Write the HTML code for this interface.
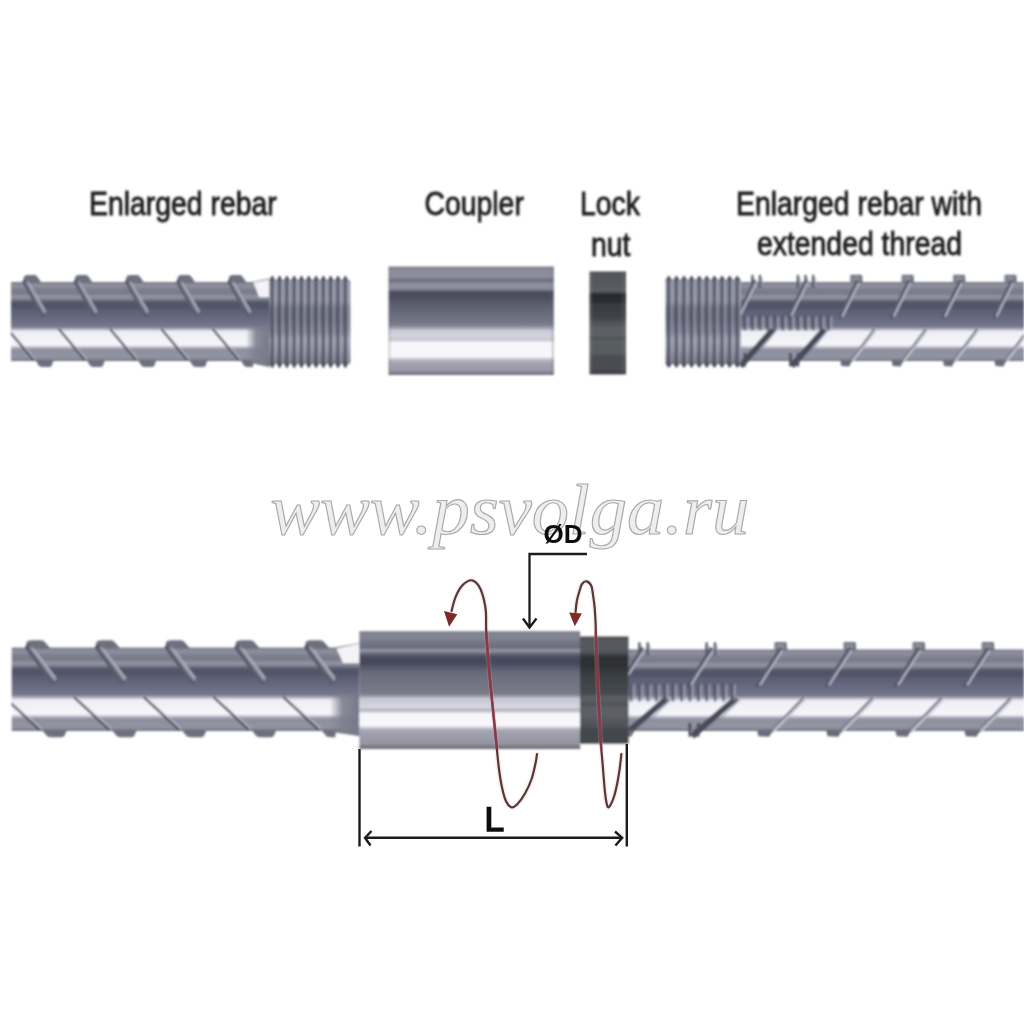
<!DOCTYPE html>
<html><head><meta charset="utf-8"><style>html,body{margin:0;padding:0;background:#fff;width:1024px;height:1024px;overflow:hidden}svg{display:block}</style></head>
<body><svg width="1024" height="1024" viewBox="0 0 1024 1024"><defs><filter id="soft" x="-5%" y="-5%" width="110%" height="110%"><feGaussianBlur stdDeviation="0.85"/></filter><filter id="softT" x="-5%" y="-20%" width="110%" height="140%"><feGaussianBlur stdDeviation="0.9"/></filter><filter id="softL" x="-5%" y="-5%" width="110%" height="110%"><feGaussianBlur stdDeviation="0.55"/></filter><filter id="soft2" x="-5%" y="-5%" width="110%" height="110%"><feGaussianBlur stdDeviation="0.8"/></filter><linearGradient id="gTL" gradientUnits="userSpaceOnUse" x1="0" y1="282.0" x2="0" y2="361.0"><stop offset="0.0000" stop-color="#6e7080"/><stop offset="0.0190" stop-color="#848694"/><stop offset="0.0443" stop-color="#8e909e"/><stop offset="0.0759" stop-color="#868896"/><stop offset="0.0949" stop-color="#7c7e8c"/><stop offset="0.1519" stop-color="#7a7c8a"/><stop offset="0.1772" stop-color="#9294a2"/><stop offset="0.2089" stop-color="#8a8c9a"/><stop offset="0.2316" stop-color="#6c6e80"/><stop offset="0.2570" stop-color="#545669"/><stop offset="0.3038" stop-color="#505266"/><stop offset="0.3544" stop-color="#5c5e74"/><stop offset="0.4557" stop-color="#686a80"/><stop offset="0.5633" stop-color="#747689"/><stop offset="0.5949" stop-color="#a8a8b8"/><stop offset="0.6266" stop-color="#eeeef4"/><stop offset="0.7975" stop-color="#f6f6fa"/><stop offset="0.8291" stop-color="#b8b8c4"/><stop offset="0.8544" stop-color="#8e909e"/><stop offset="0.9557" stop-color="#9294a2"/><stop offset="0.9873" stop-color="#7a7c8a"/><stop offset="1.0000" stop-color="#6a6c7c"/></linearGradient><clipPath id="cTL"><rect x="11" y="260" width="242" height="120"/></clipPath><linearGradient id="gCone" gradientUnits="userSpaceOnUse" x1="246" y1="0" x2="269.5" y2="0"><stop offset="0.0000" stop-color="#7e808e" stop-opacity="0"/><stop offset="0.4255" stop-color="#7e808e" stop-opacity="0.9"/><stop offset="1.0000" stop-color="#767888" stop-opacity="1"/></linearGradient><linearGradient id="gThr" gradientUnits="userSpaceOnUse" x1="0" y1="280.5" x2="0" y2="363.2"><stop offset="0.0000" stop-color="#8a8c9a"/><stop offset="0.2500" stop-color="#8e90a0"/><stop offset="0.3300" stop-color="#6e7080"/><stop offset="0.4500" stop-color="#6a6c7e"/><stop offset="0.6200" stop-color="#7c7e90"/><stop offset="0.7200" stop-color="#9c9eae"/><stop offset="0.8500" stop-color="#8a8c9c"/><stop offset="1.0000" stop-color="#6a6c7a"/></linearGradient><linearGradient id="gCT" gradientUnits="userSpaceOnUse" x1="0" y1="266.6" x2="0" y2="375"><stop offset="0.0000" stop-color="#6e7078"/><stop offset="0.0148" stop-color="#868896"/><stop offset="0.0498" stop-color="#8c8e9c"/><stop offset="0.1052" stop-color="#8a8c9a"/><stop offset="0.1190" stop-color="#6a6c7a"/><stop offset="0.1375" stop-color="#6e7080"/><stop offset="0.1513" stop-color="#8e909e"/><stop offset="0.2066" stop-color="#8c8e9c"/><stop offset="0.2232" stop-color="#5c5e70"/><stop offset="0.2435" stop-color="#4a4c5e"/><stop offset="0.2943" stop-color="#4e5062"/><stop offset="0.3358" stop-color="#5a5c6c"/><stop offset="0.4465" stop-color="#6a6c7c"/><stop offset="0.5387" stop-color="#7a7c8c"/><stop offset="0.5618" stop-color="#9a9aaa"/><stop offset="0.5895" stop-color="#cacad6"/><stop offset="0.6402" stop-color="#d4d4de"/><stop offset="0.6771" stop-color="#c6c6d2"/><stop offset="0.7002" stop-color="#f6f6fa"/><stop offset="0.8293" stop-color="#f8f8fc"/><stop offset="0.8570" stop-color="#c0c0cc"/><stop offset="0.8847" stop-color="#a4a4b2"/><stop offset="0.9539" stop-color="#9a9aaa"/><stop offset="0.9797" stop-color="#82828c"/><stop offset="1.0000" stop-color="#66666e"/></linearGradient><linearGradient id="gNT" gradientUnits="userSpaceOnUse" x1="0" y1="271.5" x2="0" y2="374.4"><stop offset="0.0000" stop-color="#44484c"/><stop offset="0.0185" stop-color="#52565a"/><stop offset="0.1506" stop-color="#565a5e"/><stop offset="0.1701" stop-color="#5c6064"/><stop offset="0.1944" stop-color="#585c60"/><stop offset="0.2206" stop-color="#26292e"/><stop offset="0.2964" stop-color="#2a2d32"/><stop offset="0.3158" stop-color="#363a3e"/><stop offset="0.4519" stop-color="#404448"/><stop offset="0.4908" stop-color="#4e5256"/><stop offset="0.5491" stop-color="#5c6064"/><stop offset="0.6268" stop-color="#5e6266"/><stop offset="0.6463" stop-color="#4a4e52"/><stop offset="0.6706" stop-color="#5a5e62"/><stop offset="0.8017" stop-color="#585c60"/><stop offset="0.8260" stop-color="#4a4e52"/><stop offset="0.9572" stop-color="#484c50"/><stop offset="0.9815" stop-color="#3a3e42"/><stop offset="1.0000" stop-color="#34383c"/></linearGradient><linearGradient id="gTR" gradientUnits="userSpaceOnUse" x1="0" y1="282.0" x2="0" y2="361.0"><stop offset="0.0000" stop-color="#6e7080"/><stop offset="0.0190" stop-color="#848694"/><stop offset="0.0443" stop-color="#8e909e"/><stop offset="0.0759" stop-color="#868896"/><stop offset="0.0949" stop-color="#7c7e8c"/><stop offset="0.1519" stop-color="#7a7c8a"/><stop offset="0.1772" stop-color="#9294a2"/><stop offset="0.2089" stop-color="#8a8c9a"/><stop offset="0.2316" stop-color="#6c6e80"/><stop offset="0.2570" stop-color="#545669"/><stop offset="0.3038" stop-color="#505266"/><stop offset="0.3544" stop-color="#5c5e74"/><stop offset="0.4557" stop-color="#686a80"/><stop offset="0.5633" stop-color="#747689"/><stop offset="0.5949" stop-color="#a8a8b8"/><stop offset="0.6266" stop-color="#eeeef4"/><stop offset="0.7975" stop-color="#f6f6fa"/><stop offset="0.8291" stop-color="#b8b8c4"/><stop offset="0.8544" stop-color="#8e909e"/><stop offset="0.9557" stop-color="#9294a2"/><stop offset="0.9873" stop-color="#7a7c8a"/><stop offset="1.0000" stop-color="#6a6c7c"/></linearGradient><clipPath id="cTR"><rect x="740" y="260" width="284" height="120"/></clipPath><linearGradient id="gBL" gradientUnits="userSpaceOnUse" x1="0" y1="647.6" x2="0" y2="731.0"><stop offset="0.0000" stop-color="#6e7080"/><stop offset="0.0190" stop-color="#848694"/><stop offset="0.0443" stop-color="#8e909e"/><stop offset="0.0759" stop-color="#868896"/><stop offset="0.0949" stop-color="#7c7e8c"/><stop offset="0.1519" stop-color="#7a7c8a"/><stop offset="0.1772" stop-color="#9294a2"/><stop offset="0.2089" stop-color="#8a8c9a"/><stop offset="0.2316" stop-color="#6c6e80"/><stop offset="0.2570" stop-color="#545669"/><stop offset="0.3038" stop-color="#505266"/><stop offset="0.3544" stop-color="#5c5e74"/><stop offset="0.4557" stop-color="#686a80"/><stop offset="0.5633" stop-color="#747689"/><stop offset="0.5949" stop-color="#a8a8b8"/><stop offset="0.6266" stop-color="#eeeef4"/><stop offset="0.7975" stop-color="#f6f6fa"/><stop offset="0.8291" stop-color="#b8b8c4"/><stop offset="0.8544" stop-color="#8e909e"/><stop offset="0.9557" stop-color="#9294a2"/><stop offset="0.9873" stop-color="#7a7c8a"/><stop offset="1.0000" stop-color="#6a6c7c"/></linearGradient><clipPath id="cBL"><rect x="11.5" y="620" width="324" height="130"/></clipPath><linearGradient id="gCone2" gradientUnits="userSpaceOnUse" x1="330" y1="0" x2="359.5" y2="0"><stop offset="0.0000" stop-color="#7e808e" stop-opacity="0"/><stop offset="0.4068" stop-color="#7e808e" stop-opacity="0.9"/><stop offset="1.0000" stop-color="#767888" stop-opacity="1"/></linearGradient><linearGradient id="gBR" gradientUnits="userSpaceOnUse" x1="0" y1="649.5" x2="0" y2="731.0"><stop offset="0.0000" stop-color="#6e7080"/><stop offset="0.0190" stop-color="#848694"/><stop offset="0.0443" stop-color="#8e909e"/><stop offset="0.0759" stop-color="#868896"/><stop offset="0.0949" stop-color="#7c7e8c"/><stop offset="0.1519" stop-color="#7a7c8a"/><stop offset="0.1772" stop-color="#9294a2"/><stop offset="0.2089" stop-color="#8a8c9a"/><stop offset="0.2316" stop-color="#6c6e80"/><stop offset="0.2570" stop-color="#545669"/><stop offset="0.3038" stop-color="#505266"/><stop offset="0.3544" stop-color="#5c5e74"/><stop offset="0.4557" stop-color="#686a80"/><stop offset="0.5633" stop-color="#747689"/><stop offset="0.5949" stop-color="#a8a8b8"/><stop offset="0.6266" stop-color="#eeeef4"/><stop offset="0.7975" stop-color="#f6f6fa"/><stop offset="0.8291" stop-color="#b8b8c4"/><stop offset="0.8544" stop-color="#8e909e"/><stop offset="0.9557" stop-color="#9294a2"/><stop offset="0.9873" stop-color="#7a7c8a"/><stop offset="1.0000" stop-color="#6a6c7c"/></linearGradient><clipPath id="cBR"><rect x="628" y="620" width="396" height="130"/></clipPath><linearGradient id="gCB" gradientUnits="userSpaceOnUse" x1="0" y1="631.3" x2="0" y2="749"><stop offset="0.0000" stop-color="#6e7078"/><stop offset="0.0170" stop-color="#808290"/><stop offset="0.0272" stop-color="#848694"/><stop offset="0.0739" stop-color="#7e808e"/><stop offset="0.0867" stop-color="#767888"/><stop offset="0.1037" stop-color="#747686"/><stop offset="0.1164" stop-color="#6c6e7c"/><stop offset="0.1444" stop-color="#6c6e7c"/><stop offset="0.1546" stop-color="#8e909e"/><stop offset="0.1742" stop-color="#8e909e"/><stop offset="0.1844" stop-color="#6c6e7c"/><stop offset="0.2031" stop-color="#585a6a"/><stop offset="0.2226" stop-color="#484c5a"/><stop offset="0.2608" stop-color="#44485a"/><stop offset="0.2829" stop-color="#4c5062"/><stop offset="0.3118" stop-color="#56596a"/><stop offset="0.3458" stop-color="#686a7a"/><stop offset="0.4223" stop-color="#70727f"/><stop offset="0.5217" stop-color="#7a7a88"/><stop offset="0.5455" stop-color="#8a8a98"/><stop offset="0.5667" stop-color="#c4c4d0"/><stop offset="0.6432" stop-color="#d8d8e2"/><stop offset="0.6644" stop-color="#babac6"/><stop offset="0.6814" stop-color="#c0c0cc"/><stop offset="0.6984" stop-color="#f6f6fa"/><stop offset="0.8003" stop-color="#f8f8fc"/><stop offset="0.8216" stop-color="#c4c4d0"/><stop offset="0.8471" stop-color="#a2a2b0"/><stop offset="0.9575" stop-color="#9494a2"/><stop offset="0.9788" stop-color="#7a7a86"/><stop offset="1.0000" stop-color="#66666e"/></linearGradient><linearGradient id="gNB" gradientUnits="userSpaceOnUse" x1="0" y1="636.6" x2="0" y2="743.5"><stop offset="0.0000" stop-color="#3a3e42"/><stop offset="0.0178" stop-color="#4e5256"/><stop offset="0.0412" stop-color="#565a5e"/><stop offset="0.1347" stop-color="#54585c"/><stop offset="0.1572" stop-color="#4a4e52"/><stop offset="0.1908" stop-color="#2e3236"/><stop offset="0.2657" stop-color="#2c3034"/><stop offset="0.3779" stop-color="#3c4044"/><stop offset="0.5370" stop-color="#464a4e"/><stop offset="0.5603" stop-color="#5a5e62"/><stop offset="0.6118" stop-color="#585c60"/><stop offset="0.6305" stop-color="#4e5256"/><stop offset="0.6632" stop-color="#5c6064"/><stop offset="0.7615" stop-color="#5a5e62"/><stop offset="0.7802" stop-color="#54585c"/><stop offset="0.8457" stop-color="#4e5256"/><stop offset="0.8644" stop-color="#44484c"/><stop offset="0.9813" stop-color="#42464a"/><stop offset="1.0000" stop-color="#2e3236"/></linearGradient><clipPath id="cCpl"><rect x="359.4" y="631.3" width="269.1" height="117.7"/></clipPath></defs><rect width="1024" height="1024" fill="#fff"/><g filter="url(#soft)"><g clip-path="url(#cTL)"><rect x="11.00" y="282.00" width="245.00" height="79.00" fill="url(#gTL)" /><path d="M23.0,282.8 L24.0,276.5 Q25.0,275.0 27.5,275.0 L34.5,275.0 Q36.5,275.0 37.5,277.0 L41.5,282.8Z" fill="#6e707e" stroke="none" stroke-width="1" /><path d="M25.0,282.0 L43.0,314.0" fill="none" stroke="#5a5c6c" stroke-width="5.2" stroke-linecap="round"/><path d="M27.5,282.5 L44.5,312.0" fill="none" stroke="#9294a4" stroke-width="3.0" stroke-linecap="round"/><path d="M29.0,283.5 L45.5,311.0" fill="none" stroke="#bcbecc" stroke-width="1.0" /><path d="M7.5,329.0 L33.5,360.0" fill="none" stroke="#4c4e5e" stroke-width="2.2" /><path d="M9.5,329.0 L35.0,359.0" fill="none" stroke="#d8d8e2" stroke-width="1.1" opacity="0.7"/><path d="M35.5,360.2 L39.0,366.0 Q40.5,367.0 42.5,367.0 L49.5,367.0 Q51.5,367.0 52.0,365.0 L53.5,360.2Z" fill="#6e707e" stroke="none" stroke-width="1" /><path d="M74.3,282.8 L75.3,276.5 Q76.3,275.0 78.8,275.0 L85.8,275.0 Q87.8,275.0 88.8,277.0 L92.8,282.8Z" fill="#6e707e" stroke="none" stroke-width="1" /><path d="M76.3,282.0 L94.3,314.0" fill="none" stroke="#5a5c6c" stroke-width="5.2" stroke-linecap="round"/><path d="M78.8,282.5 L95.8,312.0" fill="none" stroke="#9294a4" stroke-width="3.0" stroke-linecap="round"/><path d="M80.3,283.5 L96.8,311.0" fill="none" stroke="#bcbecc" stroke-width="1.0" /><path d="M58.8,329.0 L84.8,360.0" fill="none" stroke="#4c4e5e" stroke-width="2.2" /><path d="M60.8,329.0 L86.3,359.0" fill="none" stroke="#d8d8e2" stroke-width="1.1" opacity="0.7"/><path d="M86.8,360.2 L90.3,366.0 Q91.8,367.0 93.8,367.0 L100.8,367.0 Q102.8,367.0 103.3,365.0 L104.8,360.2Z" fill="#6e707e" stroke="none" stroke-width="1" /><path d="M125.6,282.8 L126.6,276.5 Q127.6,275.0 130.1,275.0 L137.1,275.0 Q139.1,275.0 140.1,277.0 L144.1,282.8Z" fill="#6e707e" stroke="none" stroke-width="1" /><path d="M127.6,282.0 L145.6,314.0" fill="none" stroke="#5a5c6c" stroke-width="5.2" stroke-linecap="round"/><path d="M130.1,282.5 L147.1,312.0" fill="none" stroke="#9294a4" stroke-width="3.0" stroke-linecap="round"/><path d="M131.6,283.5 L148.1,311.0" fill="none" stroke="#bcbecc" stroke-width="1.0" /><path d="M110.1,329.0 L136.1,360.0" fill="none" stroke="#4c4e5e" stroke-width="2.2" /><path d="M112.1,329.0 L137.6,359.0" fill="none" stroke="#d8d8e2" stroke-width="1.1" opacity="0.7"/><path d="M138.1,360.2 L141.6,366.0 Q143.1,367.0 145.1,367.0 L152.1,367.0 Q154.1,367.0 154.6,365.0 L156.1,360.2Z" fill="#6e707e" stroke="none" stroke-width="1" /><path d="M176.9,282.8 L177.9,276.5 Q178.9,275.0 181.4,275.0 L188.4,275.0 Q190.4,275.0 191.4,277.0 L195.4,282.8Z" fill="#6e707e" stroke="none" stroke-width="1" /><path d="M178.9,282.0 L196.9,314.0" fill="none" stroke="#5a5c6c" stroke-width="5.2" stroke-linecap="round"/><path d="M181.4,282.5 L198.4,312.0" fill="none" stroke="#9294a4" stroke-width="3.0" stroke-linecap="round"/><path d="M182.9,283.5 L199.4,311.0" fill="none" stroke="#bcbecc" stroke-width="1.0" /><path d="M161.4,329.0 L187.4,360.0" fill="none" stroke="#4c4e5e" stroke-width="2.2" /><path d="M163.4,329.0 L188.9,359.0" fill="none" stroke="#d8d8e2" stroke-width="1.1" opacity="0.7"/><path d="M189.4,360.2 L192.9,366.0 Q194.4,367.0 196.4,367.0 L203.4,367.0 Q205.4,367.0 205.9,365.0 L207.4,360.2Z" fill="#6e707e" stroke="none" stroke-width="1" /><path d="M228.2,282.8 L229.2,276.5 Q230.2,275.0 232.7,275.0 L239.7,275.0 Q241.7,275.0 242.7,277.0 L246.7,282.8Z" fill="#6e707e" stroke="none" stroke-width="1" /><path d="M230.2,282.0 L248.2,314.0" fill="none" stroke="#5a5c6c" stroke-width="5.2" stroke-linecap="round"/><path d="M232.7,282.5 L249.7,312.0" fill="none" stroke="#9294a4" stroke-width="3.0" stroke-linecap="round"/><path d="M234.2,283.5 L250.7,311.0" fill="none" stroke="#bcbecc" stroke-width="1.0" /><path d="M212.7,329.0 L238.7,360.0" fill="none" stroke="#4c4e5e" stroke-width="2.2" /><path d="M214.7,329.0 L240.2,359.0" fill="none" stroke="#d8d8e2" stroke-width="1.1" opacity="0.7"/><path d="M240.7,360.2 L244.2,366.0 Q245.7,367.0 247.7,367.0 L254.7,367.0 Q256.7,367.0 257.2,365.0 L258.7,360.2Z" fill="#6e707e" stroke="none" stroke-width="1" /><path d="M279.5,282.8 L280.5,276.5 Q281.5,275.0 284.0,275.0 L291.0,275.0 Q293.0,275.0 294.0,277.0 L298.0,282.8Z" fill="#6e707e" stroke="none" stroke-width="1" /><path d="M281.5,282.0 L299.5,314.0" fill="none" stroke="#5a5c6c" stroke-width="5.2" stroke-linecap="round"/><path d="M284.0,282.5 L301.0,312.0" fill="none" stroke="#9294a4" stroke-width="3.0" stroke-linecap="round"/><path d="M285.5,283.5 L302.0,311.0" fill="none" stroke="#bcbecc" stroke-width="1.0" /><path d="M264.0,329.0 L290.0,360.0" fill="none" stroke="#4c4e5e" stroke-width="2.2" /><path d="M266.0,329.0 L291.5,359.0" fill="none" stroke="#d8d8e2" stroke-width="1.1" opacity="0.7"/><path d="M292.0,360.2 L295.5,366.0 Q297.0,367.0 299.0,367.0 L306.0,367.0 Q308.0,367.0 308.5,365.0 L310.0,360.2Z" fill="#6e707e" stroke="none" stroke-width="1" /><path d="M330.8,282.8 L331.8,276.5 Q332.8,275.0 335.3,275.0 L342.3,275.0 Q344.3,275.0 345.3,277.0 L349.3,282.8Z" fill="#6e707e" stroke="none" stroke-width="1" /><path d="M332.8,282.0 L350.8,314.0" fill="none" stroke="#5a5c6c" stroke-width="5.2" stroke-linecap="round"/><path d="M335.3,282.5 L352.3,312.0" fill="none" stroke="#9294a4" stroke-width="3.0" stroke-linecap="round"/><path d="M336.8,283.5 L353.3,311.0" fill="none" stroke="#bcbecc" stroke-width="1.0" /><path d="M315.3,329.0 L341.3,360.0" fill="none" stroke="#4c4e5e" stroke-width="2.2" /><path d="M317.3,329.0 L342.8,359.0" fill="none" stroke="#d8d8e2" stroke-width="1.1" opacity="0.7"/><path d="M343.3,360.2 L346.8,366.0 Q348.3,367.0 350.3,367.0 L357.3,367.0 Q359.3,367.0 359.8,365.0 L361.3,360.2Z" fill="#6e707e" stroke="none" stroke-width="1" /></g><path d="M252,282.0 L269.5,278.5 L269.5,367 L241,361.0 L252,361.0Z" fill="url(#gTL)" stroke="none" stroke-width="1" /><path d="M246,326.5 L269.5,326.5 L269.5,367 L246,361.0Z" fill="url(#gCone)" stroke="none" stroke-width="1" /><path d="M253.5,282.5 L269.5,279.5 L269.5,297 L259,297 Z" fill="#f4f4f8" stroke="none" stroke-width="1" /><rect x="269.00" y="280.50" width="81.30" height="82.70" fill="url(#gThr)" /><path d="M268.6,281.0 L272.3,275.5 L275.9,281.0Z" fill="#6e707e" stroke="none" stroke-width="1" /><path d="M268.6,362.7 L272.3,368.2 L275.9,362.7Z" fill="#5e606e" stroke="none" stroke-width="1" /><rect x="270.89" y="276.50" width="2.80" height="90.70" fill="#4a4c5c" opacity="0.8"/><rect x="274.19" y="281.50" width="1.80" height="80.70" fill="#b4b6c6" opacity="0.45"/><path d="M275.9,281.0 L279.6,275.5 L283.2,281.0Z" fill="#6e707e" stroke="none" stroke-width="1" /><path d="M275.9,362.7 L279.6,368.2 L283.2,362.7Z" fill="#5e606e" stroke="none" stroke-width="1" /><rect x="278.19" y="276.50" width="2.80" height="90.70" fill="#4a4c5c" opacity="0.8"/><rect x="281.49" y="281.50" width="1.80" height="80.70" fill="#b4b6c6" opacity="0.45"/><path d="M283.2,281.0 L286.9,275.5 L290.5,281.0Z" fill="#6e707e" stroke="none" stroke-width="1" /><path d="M283.2,362.7 L286.9,368.2 L290.5,362.7Z" fill="#5e606e" stroke="none" stroke-width="1" /><rect x="285.49" y="276.50" width="2.80" height="90.70" fill="#4a4c5c" opacity="0.8"/><rect x="288.79" y="281.50" width="1.80" height="80.70" fill="#b4b6c6" opacity="0.45"/><path d="M290.5,281.0 L294.2,275.5 L297.8,281.0Z" fill="#6e707e" stroke="none" stroke-width="1" /><path d="M290.5,362.7 L294.2,368.2 L297.8,362.7Z" fill="#5e606e" stroke="none" stroke-width="1" /><rect x="292.79" y="276.50" width="2.80" height="90.70" fill="#4a4c5c" opacity="0.8"/><rect x="296.09" y="281.50" width="1.80" height="80.70" fill="#b4b6c6" opacity="0.45"/><path d="M297.8,281.0 L301.5,275.5 L305.1,281.0Z" fill="#6e707e" stroke="none" stroke-width="1" /><path d="M297.8,362.7 L301.5,368.2 L305.1,362.7Z" fill="#5e606e" stroke="none" stroke-width="1" /><rect x="300.09" y="276.50" width="2.80" height="90.70" fill="#4a4c5c" opacity="0.8"/><rect x="303.39" y="281.50" width="1.80" height="80.70" fill="#b4b6c6" opacity="0.45"/><path d="M305.1,281.0 L308.8,275.5 L312.4,281.0Z" fill="#6e707e" stroke="none" stroke-width="1" /><path d="M305.1,362.7 L308.8,368.2 L312.4,362.7Z" fill="#5e606e" stroke="none" stroke-width="1" /><rect x="307.39" y="276.50" width="2.80" height="90.70" fill="#4a4c5c" opacity="0.8"/><rect x="310.69" y="281.50" width="1.80" height="80.70" fill="#b4b6c6" opacity="0.45"/><path d="M312.4,281.0 L316.1,275.5 L319.7,281.0Z" fill="#6e707e" stroke="none" stroke-width="1" /><path d="M312.4,362.7 L316.1,368.2 L319.7,362.7Z" fill="#5e606e" stroke="none" stroke-width="1" /><rect x="314.69" y="276.50" width="2.80" height="90.70" fill="#4a4c5c" opacity="0.8"/><rect x="317.99" y="281.50" width="1.80" height="80.70" fill="#b4b6c6" opacity="0.45"/><path d="M319.7,281.0 L323.4,275.5 L327.0,281.0Z" fill="#6e707e" stroke="none" stroke-width="1" /><path d="M319.7,362.7 L323.4,368.2 L327.0,362.7Z" fill="#5e606e" stroke="none" stroke-width="1" /><rect x="321.99" y="276.50" width="2.80" height="90.70" fill="#4a4c5c" opacity="0.8"/><rect x="325.29" y="281.50" width="1.80" height="80.70" fill="#b4b6c6" opacity="0.45"/><path d="M327.0,281.0 L330.7,275.5 L334.3,281.0Z" fill="#6e707e" stroke="none" stroke-width="1" /><path d="M327.0,362.7 L330.7,368.2 L334.3,362.7Z" fill="#5e606e" stroke="none" stroke-width="1" /><rect x="329.29" y="276.50" width="2.80" height="90.70" fill="#4a4c5c" opacity="0.8"/><rect x="332.59" y="281.50" width="1.80" height="80.70" fill="#b4b6c6" opacity="0.45"/><path d="M334.3,281.0 L338.0,275.5 L341.6,281.0Z" fill="#6e707e" stroke="none" stroke-width="1" /><path d="M334.3,362.7 L338.0,368.2 L341.6,362.7Z" fill="#5e606e" stroke="none" stroke-width="1" /><rect x="336.59" y="276.50" width="2.80" height="90.70" fill="#4a4c5c" opacity="0.8"/><rect x="339.89" y="281.50" width="1.80" height="80.70" fill="#b4b6c6" opacity="0.45"/><path d="M341.6,281.0 L345.3,275.5 L348.9,281.0Z" fill="#6e707e" stroke="none" stroke-width="1" /><path d="M341.6,362.7 L345.3,368.2 L348.9,362.7Z" fill="#5e606e" stroke="none" stroke-width="1" /><rect x="343.89" y="276.50" width="2.80" height="90.70" fill="#4a4c5c" opacity="0.8"/><rect x="347.19" y="281.50" width="1.80" height="80.70" fill="#b4b6c6" opacity="0.45"/><rect x="388.60" y="266.60" width="165.20" height="108.40" fill="url(#gCT)" /><rect x="388.60" y="266.60" width="1.60" height="108.40" fill="#6a6c78" opacity="0.35"/><rect x="551.80" y="266.60" width="2.00" height="108.40" fill="#6a6c78" opacity="0.35"/><rect x="589.50" y="271.50" width="36.50" height="102.90" fill="url(#gNT)" /><rect x="590.50" y="271.70" width="1.50" height="102.70" fill="#7a7e82" opacity="0.35"/><rect x="622.00" y="271.70" width="1.50" height="102.70" fill="#7a7e82" opacity="0.3"/><g clip-path="url(#cTR)"><rect x="740.00" y="282.00" width="284.00" height="79.00" fill="url(#gTR)" /><path d="M1055.8,282.8 L1055.8,275.8 Q1055.8,274.8 1057.3,274.8 L1066.3,274.8 Q1067.8,274.8 1067.8,276.0 L1068.3,282.8Z" fill="#727482" stroke="none" stroke-width="1" /><rect x="1058.30" y="276.50" width="7.00" height="4.00" fill="#8c8e9c" /><rect x="1055.30" y="276.00" width="1.60" height="6.00" fill="#b0b2be" opacity="0.8"/><path d="M1062.8,282.0 L1045.8,317.0" fill="none" stroke="#5a5c6c" stroke-width="4.0" stroke-linecap="round"/><path d="M1064.3,283.5 L1048.3,316.0" fill="none" stroke="#b6b8c6" stroke-width="1.8" stroke-linecap="round"/><path d="M1080.8,329.0 L1056.8,361.0" fill="none" stroke="#7a7c8c" stroke-width="3.6" /><path d="M1082.3,329.0 L1058.3,361.0" fill="none" stroke="#c8c8d4" stroke-width="2.0" /><path d="M1045.8,360.2 L1046.8,366.0 L1054.8,366.5 L1057.8,360.2Z" fill="#6a6c7a" stroke="none" stroke-width="1" /><path d="M1004.4,282.8 L1004.4,275.8 Q1004.4,274.8 1005.9,274.8 L1014.9,274.8 Q1016.4,274.8 1016.4,276.0 L1016.9,282.8Z" fill="#727482" stroke="none" stroke-width="1" /><rect x="1006.90" y="276.50" width="7.00" height="4.00" fill="#8c8e9c" /><rect x="1003.90" y="276.00" width="1.60" height="6.00" fill="#b0b2be" opacity="0.8"/><path d="M1011.4,282.0 L994.4,317.0" fill="none" stroke="#5a5c6c" stroke-width="4.0" stroke-linecap="round"/><path d="M1012.9,283.5 L996.9,316.0" fill="none" stroke="#b6b8c6" stroke-width="1.8" stroke-linecap="round"/><path d="M1029.4,329.0 L1005.4,361.0" fill="none" stroke="#7a7c8c" stroke-width="3.6" /><path d="M1030.9,329.0 L1006.9,361.0" fill="none" stroke="#c8c8d4" stroke-width="2.0" /><path d="M994.4,360.2 L995.4,366.0 L1003.4,366.5 L1006.4,360.2Z" fill="#6a6c7a" stroke="none" stroke-width="1" /><path d="M953.0,282.8 L953.0,275.8 Q953.0,274.8 954.5,274.8 L963.5,274.8 Q965.0,274.8 965.0,276.0 L965.5,282.8Z" fill="#727482" stroke="none" stroke-width="1" /><rect x="955.50" y="276.50" width="7.00" height="4.00" fill="#8c8e9c" /><rect x="952.50" y="276.00" width="1.60" height="6.00" fill="#b0b2be" opacity="0.8"/><path d="M960.0,282.0 L943.0,317.0" fill="none" stroke="#5a5c6c" stroke-width="4.0" stroke-linecap="round"/><path d="M961.5,283.5 L945.5,316.0" fill="none" stroke="#b6b8c6" stroke-width="1.8" stroke-linecap="round"/><path d="M978.0,329.0 L954.0,361.0" fill="none" stroke="#7a7c8c" stroke-width="3.6" /><path d="M979.5,329.0 L955.5,361.0" fill="none" stroke="#c8c8d4" stroke-width="2.0" /><path d="M943.0,360.2 L944.0,366.0 L952.0,366.5 L955.0,360.2Z" fill="#6a6c7a" stroke="none" stroke-width="1" /><path d="M901.6,282.8 L901.6,275.8 Q901.6,274.8 903.1,274.8 L912.1,274.8 Q913.6,274.8 913.6,276.0 L914.1,282.8Z" fill="#727482" stroke="none" stroke-width="1" /><rect x="904.10" y="276.50" width="7.00" height="4.00" fill="#8c8e9c" /><rect x="901.10" y="276.00" width="1.60" height="6.00" fill="#b0b2be" opacity="0.8"/><path d="M908.6,282.0 L891.6,317.0" fill="none" stroke="#5a5c6c" stroke-width="4.0" stroke-linecap="round"/><path d="M910.1,283.5 L894.1,316.0" fill="none" stroke="#b6b8c6" stroke-width="1.8" stroke-linecap="round"/><path d="M926.6,329.0 L902.6,361.0" fill="none" stroke="#7a7c8c" stroke-width="3.6" /><path d="M928.1,329.0 L904.1,361.0" fill="none" stroke="#c8c8d4" stroke-width="2.0" /><path d="M891.6,360.2 L892.6,366.0 L900.6,366.5 L903.6,360.2Z" fill="#6a6c7a" stroke="none" stroke-width="1" /><path d="M850.2,282.8 L850.2,275.8 Q850.2,274.8 851.7,274.8 L860.7,274.8 Q862.2,274.8 862.2,276.0 L862.7,282.8Z" fill="#727482" stroke="none" stroke-width="1" /><rect x="852.70" y="276.50" width="7.00" height="4.00" fill="#8c8e9c" /><rect x="849.70" y="276.00" width="1.60" height="6.00" fill="#b0b2be" opacity="0.8"/><path d="M857.2,282.0 L840.2,317.0" fill="none" stroke="#5a5c6c" stroke-width="4.0" stroke-linecap="round"/><path d="M858.7,283.5 L842.7,316.0" fill="none" stroke="#b6b8c6" stroke-width="1.8" stroke-linecap="round"/><path d="M875.2,329.0 L851.2,361.0" fill="none" stroke="#7a7c8c" stroke-width="3.6" /><path d="M876.7,329.0 L852.7,361.0" fill="none" stroke="#c8c8d4" stroke-width="2.0" /><path d="M840.2,360.2 L841.2,366.0 L849.2,366.5 L852.2,360.2Z" fill="#6a6c7a" stroke="none" stroke-width="1" /><path d="M796.4,288.0 L796.8,275.5 L798.0,274.5 L799.2,275.5 L799.6,288.0Z" fill="#5e606e" stroke="none" stroke-width="1" /><rect x="799.60" y="278.00" width="1.40" height="8.00" fill="#a4a6b4" opacity="0.7"/><path d="M804.0,288.0 L804.4,275.5 L805.6,274.5 L806.8,275.5 L807.2,288.0Z" fill="#5e606e" stroke="none" stroke-width="1" /><rect x="807.20" y="278.00" width="1.40" height="8.00" fill="#a4a6b4" opacity="0.7"/><path d="M811.6,288.0 L812.0,275.5 L813.2,274.5 L814.4,275.5 L814.8,288.0Z" fill="#5e606e" stroke="none" stroke-width="1" /><rect x="814.80" y="278.00" width="1.40" height="8.00" fill="#a4a6b4" opacity="0.7"/><path d="M805.8,282.0 L788.8,317.0" fill="none" stroke="#5a5c6c" stroke-width="4.0" stroke-linecap="round"/><path d="M807.3,283.5 L791.3,316.0" fill="none" stroke="#b6b8c6" stroke-width="1.8" stroke-linecap="round"/><path d="M824.8,329.0 L791.8,366.0" fill="none" stroke="#4a4c5a" stroke-width="6.0" /><path d="M827.8,330.0 L805.8,358.0" fill="none" stroke="#8a8c9c" stroke-width="1.4" opacity="0.7"/><path d="M788.8,353.0 L789.2,366.0 L790.4,367.0 L791.6,366.0 L792.0,353.0Z" fill="#4e505e" stroke="none" stroke-width="1" /><path d="M796.4,353.0 L796.8,366.0 L798.0,367.0 L799.2,366.0 L799.6,353.0Z" fill="#4e505e" stroke="none" stroke-width="1" /><path d="M750.8,288.0 L751.2,275.5 L752.4,274.5 L753.6,275.5 L754.0,288.0Z" fill="#5e606e" stroke="none" stroke-width="1" /><rect x="754.00" y="278.00" width="1.40" height="8.00" fill="#a4a6b4" opacity="0.7"/><path d="M758.4,288.0 L758.8,275.5 L760.0,274.5 L761.2,275.5 L761.6,288.0Z" fill="#5e606e" stroke="none" stroke-width="1" /><rect x="761.60" y="278.00" width="1.40" height="8.00" fill="#a4a6b4" opacity="0.7"/><path d="M754.4,282.0 L737.4,317.0" fill="none" stroke="#5a5c6c" stroke-width="4.0" stroke-linecap="round"/><path d="M755.9,283.5 L739.9,316.0" fill="none" stroke="#b6b8c6" stroke-width="1.8" stroke-linecap="round"/><path d="M773.4,329.0 L740.4,366.0" fill="none" stroke="#4a4c5a" stroke-width="6.0" /><path d="M776.4,330.0 L754.4,358.0" fill="none" stroke="#8a8c9c" stroke-width="1.4" opacity="0.7"/><path d="M743.2,353.0 L743.6,366.0 L744.8,367.0 L746.0,366.0 L746.4,353.0Z" fill="#4e505e" stroke="none" stroke-width="1" /><path d="M696.0,282.8 L696.0,275.8 Q696.0,274.8 697.5,274.8 L706.5,274.8 Q708.0,274.8 708.0,276.0 L708.5,282.8Z" fill="#727482" stroke="none" stroke-width="1" /><rect x="698.50" y="276.50" width="7.00" height="4.00" fill="#8c8e9c" /><rect x="695.50" y="276.00" width="1.60" height="6.00" fill="#b0b2be" opacity="0.8"/><path d="M703.0,282.0 L686.0,317.0" fill="none" stroke="#5a5c6c" stroke-width="4.0" stroke-linecap="round"/><path d="M704.5,283.5 L688.5,316.0" fill="none" stroke="#b6b8c6" stroke-width="1.8" stroke-linecap="round"/><path d="M721.0,329.0 L697.0,361.0" fill="none" stroke="#7a7c8c" stroke-width="3.6" /><path d="M722.5,329.0 L698.5,361.0" fill="none" stroke="#c8c8d4" stroke-width="2.0" /><path d="M686.0,360.2 L687.0,366.0 L695.0,366.5 L698.0,360.2Z" fill="#6a6c7a" stroke="none" stroke-width="1" /><rect x="743.50" y="315.50" width="2.60" height="15.00" fill="#4e5060" opacity="0.8"/><rect x="746.60" y="316.50" width="2.20" height="13.00" fill="#b0b2c2" opacity="0.6"/><rect x="751.10" y="315.50" width="2.60" height="15.00" fill="#4e5060" opacity="0.8"/><rect x="754.20" y="316.50" width="2.20" height="13.00" fill="#b0b2c2" opacity="0.6"/><rect x="758.70" y="315.50" width="2.60" height="15.00" fill="#4e5060" opacity="0.8"/><rect x="761.80" y="316.50" width="2.20" height="13.00" fill="#b0b2c2" opacity="0.6"/><rect x="766.30" y="315.50" width="2.60" height="15.00" fill="#4e5060" opacity="0.8"/><rect x="769.40" y="316.50" width="2.20" height="13.00" fill="#b0b2c2" opacity="0.6"/><rect x="773.90" y="315.50" width="2.60" height="15.00" fill="#4e5060" opacity="0.8"/><rect x="777.00" y="316.50" width="2.20" height="13.00" fill="#b0b2c2" opacity="0.6"/><rect x="781.50" y="315.50" width="2.60" height="15.00" fill="#4e5060" opacity="0.8"/><rect x="784.60" y="316.50" width="2.20" height="13.00" fill="#b0b2c2" opacity="0.6"/><rect x="789.10" y="315.50" width="2.60" height="15.00" fill="#4e5060" opacity="0.8"/><rect x="792.20" y="316.50" width="2.20" height="13.00" fill="#b0b2c2" opacity="0.6"/><rect x="796.70" y="315.50" width="2.60" height="15.00" fill="#4e5060" opacity="0.8"/><rect x="799.80" y="316.50" width="2.20" height="13.00" fill="#b0b2c2" opacity="0.6"/><rect x="804.30" y="315.50" width="2.60" height="15.00" fill="#4e5060" opacity="0.8"/><rect x="807.40" y="316.50" width="2.20" height="13.00" fill="#b0b2c2" opacity="0.6"/><rect x="811.90" y="315.50" width="2.60" height="15.00" fill="#4e5060" opacity="0.8"/><rect x="815.00" y="316.50" width="2.20" height="13.00" fill="#b0b2c2" opacity="0.6"/><rect x="819.50" y="315.50" width="2.60" height="15.00" fill="#4e5060" opacity="0.8"/><rect x="822.60" y="316.50" width="2.20" height="13.00" fill="#b0b2c2" opacity="0.6"/><rect x="827.10" y="315.50" width="2.60" height="15.00" fill="#4e5060" opacity="0.8"/><rect x="830.20" y="316.50" width="2.20" height="13.00" fill="#b0b2c2" opacity="0.6"/></g><rect x="665.60" y="280.00" width="75.40" height="83.50" fill="url(#gThr)" /><path d="M665.0,280.5 L668.8,275.5 L672.6,280.5Z" fill="#6e707e" stroke="none" stroke-width="1" /><path d="M665.0,363.0 L668.8,368.0 L672.6,363.0Z" fill="#5e606e" stroke="none" stroke-width="1" /><rect x="667.39" y="276.50" width="2.80" height="90.50" fill="#4a4c5c" opacity="0.8"/><rect x="670.69" y="281.00" width="1.80" height="81.50" fill="#b4b6c6" opacity="0.45"/><path d="M672.6,280.5 L676.4,275.5 L680.2,280.5Z" fill="#6e707e" stroke="none" stroke-width="1" /><path d="M672.6,363.0 L676.4,368.0 L680.2,363.0Z" fill="#5e606e" stroke="none" stroke-width="1" /><rect x="674.99" y="276.50" width="2.80" height="90.50" fill="#4a4c5c" opacity="0.8"/><rect x="678.29" y="281.00" width="1.80" height="81.50" fill="#b4b6c6" opacity="0.45"/><path d="M680.2,280.5 L684.0,275.5 L687.8,280.5Z" fill="#6e707e" stroke="none" stroke-width="1" /><path d="M680.2,363.0 L684.0,368.0 L687.8,363.0Z" fill="#5e606e" stroke="none" stroke-width="1" /><rect x="682.59" y="276.50" width="2.80" height="90.50" fill="#4a4c5c" opacity="0.8"/><rect x="685.89" y="281.00" width="1.80" height="81.50" fill="#b4b6c6" opacity="0.45"/><path d="M687.8,280.5 L691.6,275.5 L695.4,280.5Z" fill="#6e707e" stroke="none" stroke-width="1" /><path d="M687.8,363.0 L691.6,368.0 L695.4,363.0Z" fill="#5e606e" stroke="none" stroke-width="1" /><rect x="690.19" y="276.50" width="2.80" height="90.50" fill="#4a4c5c" opacity="0.8"/><rect x="693.49" y="281.00" width="1.80" height="81.50" fill="#b4b6c6" opacity="0.45"/><path d="M695.4,280.5 L699.2,275.5 L703.0,280.5Z" fill="#6e707e" stroke="none" stroke-width="1" /><path d="M695.4,363.0 L699.2,368.0 L703.0,363.0Z" fill="#5e606e" stroke="none" stroke-width="1" /><rect x="697.79" y="276.50" width="2.80" height="90.50" fill="#4a4c5c" opacity="0.8"/><rect x="701.09" y="281.00" width="1.80" height="81.50" fill="#b4b6c6" opacity="0.45"/><path d="M703.0,280.5 L706.8,275.5 L710.6,280.5Z" fill="#6e707e" stroke="none" stroke-width="1" /><path d="M703.0,363.0 L706.8,368.0 L710.6,363.0Z" fill="#5e606e" stroke="none" stroke-width="1" /><rect x="705.39" y="276.50" width="2.80" height="90.50" fill="#4a4c5c" opacity="0.8"/><rect x="708.69" y="281.00" width="1.80" height="81.50" fill="#b4b6c6" opacity="0.45"/><path d="M710.6,280.5 L714.4,275.5 L718.2,280.5Z" fill="#6e707e" stroke="none" stroke-width="1" /><path d="M710.6,363.0 L714.4,368.0 L718.2,363.0Z" fill="#5e606e" stroke="none" stroke-width="1" /><rect x="712.99" y="276.50" width="2.80" height="90.50" fill="#4a4c5c" opacity="0.8"/><rect x="716.29" y="281.00" width="1.80" height="81.50" fill="#b4b6c6" opacity="0.45"/><path d="M718.2,280.5 L722.0,275.5 L725.8,280.5Z" fill="#6e707e" stroke="none" stroke-width="1" /><path d="M718.2,363.0 L722.0,368.0 L725.8,363.0Z" fill="#5e606e" stroke="none" stroke-width="1" /><rect x="720.59" y="276.50" width="2.80" height="90.50" fill="#4a4c5c" opacity="0.8"/><rect x="723.89" y="281.00" width="1.80" height="81.50" fill="#b4b6c6" opacity="0.45"/><path d="M725.8,280.5 L729.6,275.5 L733.4,280.5Z" fill="#6e707e" stroke="none" stroke-width="1" /><path d="M725.8,363.0 L729.6,368.0 L733.4,363.0Z" fill="#5e606e" stroke="none" stroke-width="1" /><rect x="728.19" y="276.50" width="2.80" height="90.50" fill="#4a4c5c" opacity="0.8"/><rect x="731.49" y="281.00" width="1.80" height="81.50" fill="#b4b6c6" opacity="0.45"/><path d="M733.4,280.5 L737.2,275.5 L741.0,280.5Z" fill="#6e707e" stroke="none" stroke-width="1" /><path d="M733.4,363.0 L737.2,368.0 L741.0,363.0Z" fill="#5e606e" stroke="none" stroke-width="1" /><rect x="735.79" y="276.50" width="2.80" height="90.50" fill="#4a4c5c" opacity="0.8"/><rect x="739.09" y="281.00" width="1.80" height="81.50" fill="#b4b6c6" opacity="0.45"/></g><g filter="url(#softT)"><text x="0" y="0" transform="translate(89,215) scale(0.86,1)" font-family="Liberation Sans" font-size="33" fill="#1c1c1c" stroke="#1c1c1c" stroke-width="0.9" text-anchor="start">Enlarged rebar</text><text x="0" y="0" transform="translate(424.5,215.4) scale(0.86,1)" font-family="Liberation Sans" font-size="33" fill="#1c1c1c" stroke="#1c1c1c" stroke-width="0.9" text-anchor="start">Coupler</text><text x="0" y="0" transform="translate(580,215) scale(0.86,1)" font-family="Liberation Sans" font-size="33" fill="#1c1c1c" stroke="#1c1c1c" stroke-width="0.9" text-anchor="start">Lock</text><text x="0" y="0" transform="translate(591,255.7) scale(0.86,1)" font-family="Liberation Sans" font-size="33" fill="#1c1c1c" stroke="#1c1c1c" stroke-width="0.9" text-anchor="start">nut</text><text x="0" y="0" transform="translate(859,215) scale(0.86,1)" font-family="Liberation Sans" font-size="33" fill="#1c1c1c" stroke="#1c1c1c" stroke-width="0.9" text-anchor="middle">Enlarged rebar with</text><text x="0" y="0" transform="translate(859.5,255) scale(0.86,1)" font-family="Liberation Sans" font-size="33" fill="#1c1c1c" stroke="#1c1c1c" stroke-width="0.9" text-anchor="middle">extended thread</text></g><text x="0" y="0" transform="translate(270.3,533.5) scale(1.035,1)" font-family="Liberation Serif" font-style="italic" font-size="72" fill="#eeeeee" stroke="#a8a8a8" stroke-width="1.1" filter="url(#softL)">www.psvolga.ru</text><g filter="url(#soft)"><g clip-path="url(#cBL)"><rect x="11.50" y="647.60" width="330.00" height="83.40" fill="url(#gBL)" /><path d="M25.3,648.4 L26.7,641.8 Q28.0,640.2 31.4,640.2 L41.0,640.2 Q43.7,640.2 45.0,642.3 L50.5,648.4Z" fill="#6e707e" stroke="none" stroke-width="1" /><path d="M28.0,647.6 L52.5,681.4" fill="none" stroke="#5a5c6c" stroke-width="5.5" stroke-linecap="round"/><path d="M31.4,648.1 L54.6,679.3" fill="none" stroke="#9294a4" stroke-width="3.2" stroke-linecap="round"/><path d="M33.5,649.2 L55.9,678.2" fill="none" stroke="#bcbecc" stroke-width="1.1" /><path d="M4.2,697.2 L39.6,729.9" fill="none" stroke="#4c4e5e" stroke-width="2.3" /><path d="M7.0,697.2 L41.6,728.9" fill="none" stroke="#d8d8e2" stroke-width="1.2" opacity="0.7"/><path d="M42.3,730.2 L47.1,736.3 Q49.1,737.3 51.9,737.3 L61.4,737.3 Q64.1,737.3 64.8,735.2 L66.8,730.2Z" fill="#6e707e" stroke="none" stroke-width="1" /><path d="M95.1,648.4 L96.5,641.8 Q97.8,640.2 101.2,640.2 L110.8,640.2 Q113.5,640.2 114.8,642.3 L120.3,648.4Z" fill="#6e707e" stroke="none" stroke-width="1" /><path d="M97.8,647.6 L122.3,681.4" fill="none" stroke="#5a5c6c" stroke-width="5.5" stroke-linecap="round"/><path d="M101.2,648.1 L124.4,679.3" fill="none" stroke="#9294a4" stroke-width="3.2" stroke-linecap="round"/><path d="M103.3,649.2 L125.7,678.2" fill="none" stroke="#bcbecc" stroke-width="1.1" /><path d="M74.0,697.2 L109.4,729.9" fill="none" stroke="#4c4e5e" stroke-width="2.3" /><path d="M76.8,697.2 L111.4,728.9" fill="none" stroke="#d8d8e2" stroke-width="1.2" opacity="0.7"/><path d="M112.1,730.2 L116.9,736.3 Q118.9,737.3 121.7,737.3 L131.2,737.3 Q133.9,737.3 134.6,735.2 L136.6,730.2Z" fill="#6e707e" stroke="none" stroke-width="1" /><path d="M164.9,648.4 L166.3,641.8 Q167.6,640.2 171.0,640.2 L180.6,640.2 Q183.3,640.2 184.6,642.3 L190.1,648.4Z" fill="#6e707e" stroke="none" stroke-width="1" /><path d="M167.6,647.6 L192.1,681.4" fill="none" stroke="#5a5c6c" stroke-width="5.5" stroke-linecap="round"/><path d="M171.0,648.1 L194.2,679.3" fill="none" stroke="#9294a4" stroke-width="3.2" stroke-linecap="round"/><path d="M173.1,649.2 L195.5,678.2" fill="none" stroke="#bcbecc" stroke-width="1.1" /><path d="M143.8,697.2 L179.2,729.9" fill="none" stroke="#4c4e5e" stroke-width="2.3" /><path d="M146.6,697.2 L181.2,728.9" fill="none" stroke="#d8d8e2" stroke-width="1.2" opacity="0.7"/><path d="M181.9,730.2 L186.7,736.3 Q188.7,737.3 191.5,737.3 L201.0,737.3 Q203.7,737.3 204.4,735.2 L206.4,730.2Z" fill="#6e707e" stroke="none" stroke-width="1" /><path d="M234.7,648.4 L236.1,641.8 Q237.4,640.2 240.8,640.2 L250.4,640.2 Q253.1,640.2 254.4,642.3 L259.9,648.4Z" fill="#6e707e" stroke="none" stroke-width="1" /><path d="M237.4,647.6 L261.9,681.4" fill="none" stroke="#5a5c6c" stroke-width="5.5" stroke-linecap="round"/><path d="M240.8,648.1 L264.0,679.3" fill="none" stroke="#9294a4" stroke-width="3.2" stroke-linecap="round"/><path d="M242.9,649.2 L265.3,678.2" fill="none" stroke="#bcbecc" stroke-width="1.1" /><path d="M213.6,697.2 L249.0,729.9" fill="none" stroke="#4c4e5e" stroke-width="2.3" /><path d="M216.4,697.2 L251.0,728.9" fill="none" stroke="#d8d8e2" stroke-width="1.2" opacity="0.7"/><path d="M251.7,730.2 L256.5,736.3 Q258.5,737.3 261.3,737.3 L270.8,737.3 Q273.5,737.3 274.2,735.2 L276.2,730.2Z" fill="#6e707e" stroke="none" stroke-width="1" /><path d="M304.5,648.4 L305.9,641.8 Q307.2,640.2 310.6,640.2 L320.2,640.2 Q322.9,640.2 324.2,642.3 L329.7,648.4Z" fill="#6e707e" stroke="none" stroke-width="1" /><path d="M307.2,647.6 L331.7,681.4" fill="none" stroke="#5a5c6c" stroke-width="5.5" stroke-linecap="round"/><path d="M310.6,648.1 L333.8,679.3" fill="none" stroke="#9294a4" stroke-width="3.2" stroke-linecap="round"/><path d="M312.7,649.2 L335.1,678.2" fill="none" stroke="#bcbecc" stroke-width="1.1" /><path d="M283.4,697.2 L318.8,729.9" fill="none" stroke="#4c4e5e" stroke-width="2.3" /><path d="M286.2,697.2 L320.8,728.9" fill="none" stroke="#d8d8e2" stroke-width="1.2" opacity="0.7"/><path d="M321.5,730.2 L326.3,736.3 Q328.3,737.3 331.1,737.3 L340.6,737.3 Q343.3,737.3 344.0,735.2 L346.0,730.2Z" fill="#6e707e" stroke="none" stroke-width="1" /><path d="M374.3,648.4 L375.7,641.8 Q377.0,640.2 380.4,640.2 L390.0,640.2 Q392.7,640.2 394.0,642.3 L399.5,648.4Z" fill="#6e707e" stroke="none" stroke-width="1" /><path d="M377.0,647.6 L401.5,681.4" fill="none" stroke="#5a5c6c" stroke-width="5.5" stroke-linecap="round"/><path d="M380.4,648.1 L403.6,679.3" fill="none" stroke="#9294a4" stroke-width="3.2" stroke-linecap="round"/><path d="M382.5,649.2 L404.9,678.2" fill="none" stroke="#bcbecc" stroke-width="1.1" /><path d="M353.2,697.2 L388.6,729.9" fill="none" stroke="#4c4e5e" stroke-width="2.3" /><path d="M356.0,697.2 L390.6,728.9" fill="none" stroke="#d8d8e2" stroke-width="1.2" opacity="0.7"/><path d="M391.3,730.2 L396.1,736.3 Q398.1,737.3 400.9,737.3 L410.4,737.3 Q413.1,737.3 413.8,735.2 L415.8,730.2Z" fill="#6e707e" stroke="none" stroke-width="1" /><path d="M444.1,648.4 L445.5,641.8 Q446.8,640.2 450.2,640.2 L459.8,640.2 Q462.5,640.2 463.8,642.3 L469.3,648.4Z" fill="#6e707e" stroke="none" stroke-width="1" /><path d="M446.8,647.6 L471.3,681.4" fill="none" stroke="#5a5c6c" stroke-width="5.5" stroke-linecap="round"/><path d="M450.2,648.1 L473.4,679.3" fill="none" stroke="#9294a4" stroke-width="3.2" stroke-linecap="round"/><path d="M452.3,649.2 L474.7,678.2" fill="none" stroke="#bcbecc" stroke-width="1.1" /><path d="M423.0,697.2 L458.4,729.9" fill="none" stroke="#4c4e5e" stroke-width="2.3" /><path d="M425.8,697.2 L460.4,728.9" fill="none" stroke="#d8d8e2" stroke-width="1.2" opacity="0.7"/><path d="M461.1,730.2 L465.9,736.3 Q467.9,737.3 470.7,737.3 L480.2,737.3 Q482.9,737.3 483.6,735.2 L485.6,730.2Z" fill="#6e707e" stroke="none" stroke-width="1" /></g><path d="M335,647.6 L359.5,643 L359.5,736 L325,731.0 L335,731.0Z" fill="url(#gBL)" stroke="none" stroke-width="1" /><path d="M330,694.6 L359.5,694.6 L359.5,736 L330,731.0Z" fill="url(#gCone2)" stroke="none" stroke-width="1" /><path d="M336.5,648.5 L359.5,643.5 L359.5,663 L343,663 Z" fill="#f4f4f8" stroke="none" stroke-width="1" /><g clip-path="url(#cBR)"><rect x="628.00" y="649.50" width="396.00" height="81.50" fill="url(#gBR)" /><path d="M1050.7,650.3 L1050.7,643.1 Q1050.7,642.1 1052.2,642.1 L1061.6,642.1 Q1063.1,642.1 1063.1,643.3 L1063.6,650.3Z" fill="#727482" stroke="none" stroke-width="1" /><rect x="1053.22" y="643.83" width="7.38" height="4.13" fill="#8c8e9c" /><rect x="1050.22" y="643.31" width="1.60" height="6.19" fill="#b0b2be" opacity="0.8"/><path d="M1056.4,649.5 L1033.5,685.6" fill="none" stroke="#5a5c6c" stroke-width="4.1" stroke-linecap="round"/><path d="M1058.4,651.0 L1036.8,684.6" fill="none" stroke="#b6b8c6" stroke-width="1.9" stroke-linecap="round"/><path d="M1080.6,698.0 L1048.3,731.0" fill="none" stroke="#7a7c8c" stroke-width="3.7" /><path d="M1082.6,698.0 L1050.3,731.0" fill="none" stroke="#c8c8d4" stroke-width="2.1" /><path d="M1033.5,730.2 L1034.8,736.2 L1045.6,736.7 L1049.6,730.2Z" fill="#6a6c7a" stroke="none" stroke-width="1" /><path d="M981.6,650.3 L981.6,643.1 Q981.6,642.1 983.1,642.1 L992.5,642.1 Q994.0,642.1 994.0,643.3 L994.5,650.3Z" fill="#727482" stroke="none" stroke-width="1" /><rect x="984.12" y="643.83" width="7.38" height="4.13" fill="#8c8e9c" /><rect x="981.12" y="643.31" width="1.60" height="6.19" fill="#b0b2be" opacity="0.8"/><path d="M987.3,649.5 L964.4,685.6" fill="none" stroke="#5a5c6c" stroke-width="4.1" stroke-linecap="round"/><path d="M989.3,651.0 L967.7,684.6" fill="none" stroke="#b6b8c6" stroke-width="1.9" stroke-linecap="round"/><path d="M1011.5,698.0 L979.2,731.0" fill="none" stroke="#7a7c8c" stroke-width="3.7" /><path d="M1013.5,698.0 L981.2,731.0" fill="none" stroke="#c8c8d4" stroke-width="2.1" /><path d="M964.4,730.2 L965.7,736.2 L976.5,736.7 L980.5,730.2Z" fill="#6a6c7a" stroke="none" stroke-width="1" /><path d="M912.5,650.3 L912.5,643.1 Q912.5,642.1 914.0,642.1 L923.4,642.1 Q924.9,642.1 924.9,643.3 L925.4,650.3Z" fill="#727482" stroke="none" stroke-width="1" /><rect x="915.02" y="643.83" width="7.38" height="4.13" fill="#8c8e9c" /><rect x="912.02" y="643.31" width="1.60" height="6.19" fill="#b0b2be" opacity="0.8"/><path d="M918.2,649.5 L895.3,685.6" fill="none" stroke="#5a5c6c" stroke-width="4.1" stroke-linecap="round"/><path d="M920.2,651.0 L898.6,684.6" fill="none" stroke="#b6b8c6" stroke-width="1.9" stroke-linecap="round"/><path d="M942.4,698.0 L910.1,731.0" fill="none" stroke="#7a7c8c" stroke-width="3.7" /><path d="M944.4,698.0 L912.1,731.0" fill="none" stroke="#c8c8d4" stroke-width="2.1" /><path d="M895.3,730.2 L896.6,736.2 L907.4,736.7 L911.4,730.2Z" fill="#6a6c7a" stroke="none" stroke-width="1" /><path d="M843.4,650.3 L843.4,643.1 Q843.4,642.1 844.9,642.1 L854.3,642.1 Q855.8,642.1 855.8,643.3 L856.3,650.3Z" fill="#727482" stroke="none" stroke-width="1" /><rect x="845.92" y="643.83" width="7.38" height="4.13" fill="#8c8e9c" /><rect x="842.92" y="643.31" width="1.60" height="6.19" fill="#b0b2be" opacity="0.8"/><path d="M849.1,649.5 L826.2,685.6" fill="none" stroke="#5a5c6c" stroke-width="4.1" stroke-linecap="round"/><path d="M851.1,651.0 L829.5,684.6" fill="none" stroke="#b6b8c6" stroke-width="1.9" stroke-linecap="round"/><path d="M873.3,698.0 L841.0,731.0" fill="none" stroke="#7a7c8c" stroke-width="3.7" /><path d="M875.3,698.0 L843.0,731.0" fill="none" stroke="#c8c8d4" stroke-width="2.1" /><path d="M826.2,730.2 L827.5,736.2 L838.3,736.7 L842.3,730.2Z" fill="#6a6c7a" stroke="none" stroke-width="1" /><path d="M774.3,650.3 L774.3,643.1 Q774.3,642.1 775.8,642.1 L785.2,642.1 Q786.7,642.1 786.7,643.3 L787.2,650.3Z" fill="#727482" stroke="none" stroke-width="1" /><rect x="776.82" y="643.83" width="7.38" height="4.13" fill="#8c8e9c" /><rect x="773.82" y="643.31" width="1.60" height="6.19" fill="#b0b2be" opacity="0.8"/><path d="M780.0,649.5 L757.1,685.6" fill="none" stroke="#5a5c6c" stroke-width="4.1" stroke-linecap="round"/><path d="M782.0,651.0 L760.4,684.6" fill="none" stroke="#b6b8c6" stroke-width="1.9" stroke-linecap="round"/><path d="M804.2,698.0 L771.9,731.0" fill="none" stroke="#7a7c8c" stroke-width="3.7" /><path d="M806.2,698.0 L773.9,731.0" fill="none" stroke="#c8c8d4" stroke-width="2.1" /><path d="M757.1,730.2 L758.4,736.2 L769.2,736.7 L773.2,730.2Z" fill="#6a6c7a" stroke="none" stroke-width="1" /><path d="M705.0,655.5 L705.4,642.8 L706.6,641.8 L707.8,642.8 L708.2,655.5Z" fill="#5e606e" stroke="none" stroke-width="1" /><rect x="708.20" y="645.37" width="1.40" height="8.13" fill="#a4a6b4" opacity="0.7"/><path d="M713.4,655.5 L713.8,642.8 L715.0,641.8 L716.2,642.8 L716.6,655.5Z" fill="#5e606e" stroke="none" stroke-width="1" /><rect x="716.60" y="645.37" width="1.40" height="8.13" fill="#a4a6b4" opacity="0.7"/><path d="M710.9,649.5 L688.0,685.6" fill="none" stroke="#5a5c6c" stroke-width="4.1" stroke-linecap="round"/><path d="M712.9,651.0 L691.3,684.6" fill="none" stroke="#b6b8c6" stroke-width="1.9" stroke-linecap="round"/><path d="M736.5,698.0 L692.0,736.2" fill="none" stroke="#4a4c5a" stroke-width="6.2" /><path d="M740.5,699.0 L710.9,727.9" fill="none" stroke="#8a8c9c" stroke-width="1.4" opacity="0.7"/><path d="M688.2,723.0 L688.6,736.2 L689.8,737.2 L691.0,736.2 L691.4,723.0Z" fill="#4e505e" stroke="none" stroke-width="1" /><path d="M696.6,723.0 L697.0,736.2 L698.2,737.2 L699.4,736.2 L699.8,723.0Z" fill="#4e505e" stroke="none" stroke-width="1" /><path d="M637.8,655.5 L638.2,642.8 L639.4,641.8 L640.6,642.8 L641.0,655.5Z" fill="#5e606e" stroke="none" stroke-width="1" /><rect x="641.00" y="645.37" width="1.40" height="8.13" fill="#a4a6b4" opacity="0.7"/><path d="M646.2,655.5 L646.6,642.8 L647.8,641.8 L649.0,642.8 L649.4,655.5Z" fill="#5e606e" stroke="none" stroke-width="1" /><rect x="649.40" y="645.37" width="1.40" height="8.13" fill="#a4a6b4" opacity="0.7"/><path d="M641.8,649.5 L618.9,685.6" fill="none" stroke="#5a5c6c" stroke-width="4.1" stroke-linecap="round"/><path d="M643.8,651.0 L622.2,684.6" fill="none" stroke="#b6b8c6" stroke-width="1.9" stroke-linecap="round"/><path d="M667.4,698.0 L622.9,736.2" fill="none" stroke="#4a4c5a" stroke-width="6.2" /><path d="M671.4,699.0 L641.8,727.9" fill="none" stroke="#8a8c9c" stroke-width="1.4" opacity="0.7"/><path d="M618.9,730.2 L620.2,736.2 L631.0,736.7 L635.0,730.2Z" fill="#6a6c7a" stroke="none" stroke-width="1" /><path d="M567.0,650.3 L567.0,643.1 Q567.0,642.1 568.5,642.1 L577.9,642.1 Q579.4,642.1 579.4,643.3 L579.9,650.3Z" fill="#727482" stroke="none" stroke-width="1" /><rect x="569.52" y="643.83" width="7.38" height="4.13" fill="#8c8e9c" /><rect x="566.52" y="643.31" width="1.60" height="6.19" fill="#b0b2be" opacity="0.8"/><path d="M572.7,649.5 L549.8,685.6" fill="none" stroke="#5a5c6c" stroke-width="4.1" stroke-linecap="round"/><path d="M574.7,651.0 L553.1,684.6" fill="none" stroke="#b6b8c6" stroke-width="1.9" stroke-linecap="round"/><path d="M596.9,698.0 L564.6,731.0" fill="none" stroke="#7a7c8c" stroke-width="3.7" /><path d="M598.9,698.0 L566.6,731.0" fill="none" stroke="#c8c8d4" stroke-width="2.1" /><path d="M549.8,730.2 L551.1,736.2 L561.9,736.7 L565.9,730.2Z" fill="#6a6c7a" stroke="none" stroke-width="1" /><rect x="629.70" y="683.50" width="2.60" height="18.00" fill="#4e5060" opacity="0.8"/><rect x="632.80" y="684.50" width="2.20" height="16.00" fill="#b0b2c2" opacity="0.6"/><rect x="638.10" y="683.50" width="2.60" height="18.00" fill="#4e5060" opacity="0.8"/><rect x="641.20" y="684.50" width="2.20" height="16.00" fill="#b0b2c2" opacity="0.6"/><rect x="646.50" y="683.50" width="2.60" height="18.00" fill="#4e5060" opacity="0.8"/><rect x="649.60" y="684.50" width="2.20" height="16.00" fill="#b0b2c2" opacity="0.6"/><rect x="654.90" y="683.50" width="2.60" height="18.00" fill="#4e5060" opacity="0.8"/><rect x="658.00" y="684.50" width="2.20" height="16.00" fill="#b0b2c2" opacity="0.6"/><rect x="663.30" y="683.50" width="2.60" height="18.00" fill="#4e5060" opacity="0.8"/><rect x="666.40" y="684.50" width="2.20" height="16.00" fill="#b0b2c2" opacity="0.6"/><rect x="671.70" y="683.50" width="2.60" height="18.00" fill="#4e5060" opacity="0.8"/><rect x="674.80" y="684.50" width="2.20" height="16.00" fill="#b0b2c2" opacity="0.6"/><rect x="680.10" y="683.50" width="2.60" height="18.00" fill="#4e5060" opacity="0.8"/><rect x="683.20" y="684.50" width="2.20" height="16.00" fill="#b0b2c2" opacity="0.6"/><rect x="688.50" y="683.50" width="2.60" height="18.00" fill="#4e5060" opacity="0.8"/><rect x="691.60" y="684.50" width="2.20" height="16.00" fill="#b0b2c2" opacity="0.6"/><rect x="696.90" y="683.50" width="2.60" height="18.00" fill="#4e5060" opacity="0.8"/><rect x="700.00" y="684.50" width="2.20" height="16.00" fill="#b0b2c2" opacity="0.6"/><rect x="705.30" y="683.50" width="2.60" height="18.00" fill="#4e5060" opacity="0.8"/><rect x="708.40" y="684.50" width="2.20" height="16.00" fill="#b0b2c2" opacity="0.6"/><rect x="713.70" y="683.50" width="2.60" height="18.00" fill="#4e5060" opacity="0.8"/><rect x="716.80" y="684.50" width="2.20" height="16.00" fill="#b0b2c2" opacity="0.6"/><rect x="722.10" y="683.50" width="2.60" height="18.00" fill="#4e5060" opacity="0.8"/><rect x="725.20" y="684.50" width="2.20" height="16.00" fill="#b0b2c2" opacity="0.6"/><rect x="730.50" y="683.50" width="2.60" height="18.00" fill="#4e5060" opacity="0.8"/><rect x="733.60" y="684.50" width="2.20" height="16.00" fill="#b0b2c2" opacity="0.6"/></g><rect x="359.40" y="631.30" width="220.80" height="117.70" fill="url(#gCB)" /><rect x="580.00" y="636.60" width="48.50" height="106.90" fill="url(#gNB)" /></g><g filter="url(#softL)"><path d="M537.0,754.0 C536.8,755.6 536.4,759.2 535.5,763.4 C534.6,767.6 533.3,774.1 531.6,779.0 C529.9,783.9 527.6,788.8 525.3,793.0 C522.9,797.2 519.8,801.6 517.5,804.0 C515.2,806.4 513.2,807.9 511.2,807.2 C509.2,806.5 507.1,803.7 505.5,800.0 C503.9,796.3 502.7,790.8 501.5,785.0 C500.3,779.2 499.3,771.7 498.5,765.0 C497.7,758.3 497.3,753.3 496.5,745.0 C495.7,736.7 494.6,725.8 493.5,715.0 C492.4,704.2 491.0,690.8 490.0,680.0 C489.0,669.2 488.1,658.1 487.5,650.0 C486.9,641.9 486.5,637.8 486.2,631.4 C485.9,625.0 486.3,617.1 485.9,611.9 C485.5,606.7 484.9,603.8 484.0,600.0 C483.1,596.2 481.8,591.8 480.5,589.0 C479.2,586.2 477.9,584.5 476.5,583.0 C475.1,581.5 473.6,580.5 472.0,580.3 C470.4,580.1 468.7,580.7 467.0,581.6 C465.3,582.5 463.6,584.0 462.0,585.8 C460.4,587.6 458.9,590.1 457.6,592.6 C456.3,595.1 455.2,597.9 454.2,601.0 C453.2,604.1 452.0,609.3 451.6,611.0" fill="none" stroke="#e0a8a8" stroke-width="5.0" stroke-linecap="round" opacity="0.22"/><path d="M621.4,754.0 C621.1,756.3 620.4,763.3 619.8,768.0 C619.1,772.7 618.4,777.5 617.5,782.0 C616.6,786.5 615.6,791.3 614.5,795.0 C613.4,798.7 612.1,802.0 611.0,804.0 C609.9,806.0 608.8,807.9 608.0,807.2 C607.2,806.5 606.6,803.7 606.0,800.0 C605.4,796.3 604.8,790.8 604.3,785.0 C603.8,779.2 603.2,771.7 602.7,765.0 C602.2,758.3 601.6,754.2 601.0,745.0 C600.4,735.8 599.6,720.8 599.0,710.0 C598.4,699.2 597.9,690.0 597.5,680.0 C597.1,670.0 596.7,657.4 596.4,650.0 C596.1,642.6 596.0,640.5 595.9,635.6 C595.8,630.7 595.8,625.9 595.5,620.8 C595.2,615.7 594.9,609.8 594.4,605.2 C593.9,600.6 593.3,596.7 592.8,593.4 C592.3,590.1 592.3,587.6 591.2,585.6 C590.2,583.6 588.1,581.6 586.6,581.3 C585.1,581.0 583.2,582.4 582.0,584.0 C580.8,585.6 580.4,588.1 579.5,591.0 C578.6,593.9 577.4,597.8 576.8,601.2 C576.1,604.8 575.8,610.2 575.6,612.0" fill="none" stroke="#e0a8a8" stroke-width="5.0" stroke-linecap="round" opacity="0.22"/><path d="M537.0,754.0 C536.8,755.6 536.4,759.2 535.5,763.4 C534.6,767.6 533.3,774.1 531.6,779.0 C529.9,783.9 527.6,788.8 525.3,793.0 C522.9,797.2 519.8,801.6 517.5,804.0 C515.2,806.4 513.2,807.9 511.2,807.2 C509.2,806.5 507.1,803.7 505.5,800.0 C503.9,796.3 502.7,790.8 501.5,785.0 C500.3,779.2 499.3,771.7 498.5,765.0 C497.7,758.3 497.3,753.3 496.5,745.0 C495.7,736.7 494.6,725.8 493.5,715.0 C492.4,704.2 491.0,690.8 490.0,680.0 C489.0,669.2 488.1,658.1 487.5,650.0 C486.9,641.9 486.5,637.8 486.2,631.4 C485.9,625.0 486.3,617.1 485.9,611.9 C485.5,606.7 484.9,603.8 484.0,600.0 C483.1,596.2 481.8,591.8 480.5,589.0 C479.2,586.2 477.9,584.5 476.5,583.0 C475.1,581.5 473.6,580.5 472.0,580.3 C470.4,580.1 468.7,580.7 467.0,581.6 C465.3,582.5 463.6,584.0 462.0,585.8 C460.4,587.6 458.9,590.1 457.6,592.6 C456.3,595.1 455.2,597.9 454.2,601.0 C453.2,604.1 452.0,609.3 451.6,611.0" fill="none" stroke="#553838" stroke-width="2.2" stroke-linecap="round"/><path d="M621.4,754.0 C621.1,756.3 620.4,763.3 619.8,768.0 C619.1,772.7 618.4,777.5 617.5,782.0 C616.6,786.5 615.6,791.3 614.5,795.0 C613.4,798.7 612.1,802.0 611.0,804.0 C609.9,806.0 608.8,807.9 608.0,807.2 C607.2,806.5 606.6,803.7 606.0,800.0 C605.4,796.3 604.8,790.8 604.3,785.0 C603.8,779.2 603.2,771.7 602.7,765.0 C602.2,758.3 601.6,754.2 601.0,745.0 C600.4,735.8 599.6,720.8 599.0,710.0 C598.4,699.2 597.9,690.0 597.5,680.0 C597.1,670.0 596.7,657.4 596.4,650.0 C596.1,642.6 596.0,640.5 595.9,635.6 C595.8,630.7 595.8,625.9 595.5,620.8 C595.2,615.7 594.9,609.8 594.4,605.2 C593.9,600.6 593.3,596.7 592.8,593.4 C592.3,590.1 592.3,587.6 591.2,585.6 C590.2,583.6 588.1,581.6 586.6,581.3 C585.1,581.0 583.2,582.4 582.0,584.0 C580.8,585.6 580.4,588.1 579.5,591.0 C578.6,593.9 577.4,597.8 576.8,601.2 C576.1,604.8 575.8,610.2 575.6,612.0" fill="none" stroke="#553838" stroke-width="2.2" stroke-linecap="round"/><g clip-path="url(#cCpl)"><path d="M537.0,754.0 C536.8,755.6 536.4,759.2 535.5,763.4 C534.6,767.6 533.3,774.1 531.6,779.0 C529.9,783.9 527.6,788.8 525.3,793.0 C522.9,797.2 519.8,801.6 517.5,804.0 C515.2,806.4 513.2,807.9 511.2,807.2 C509.2,806.5 507.1,803.7 505.5,800.0 C503.9,796.3 502.7,790.8 501.5,785.0 C500.3,779.2 499.3,771.7 498.5,765.0 C497.7,758.3 497.3,753.3 496.5,745.0 C495.7,736.7 494.6,725.8 493.5,715.0 C492.4,704.2 491.0,690.8 490.0,680.0 C489.0,669.2 488.1,658.1 487.5,650.0 C486.9,641.9 486.5,637.8 486.2,631.4 C485.9,625.0 486.3,617.1 485.9,611.9 C485.5,606.7 484.9,603.8 484.0,600.0 C483.1,596.2 481.8,591.8 480.5,589.0 C479.2,586.2 477.9,584.5 476.5,583.0 C475.1,581.5 473.6,580.5 472.0,580.3 C470.4,580.1 468.7,580.7 467.0,581.6 C465.3,582.5 463.6,584.0 462.0,585.8 C460.4,587.6 458.9,590.1 457.6,592.6 C456.3,595.1 455.2,597.9 454.2,601.0 C453.2,604.1 452.0,609.3 451.6,611.0" fill="none" stroke="#9a3a4c" stroke-width="2.6" opacity="0.75"/><path d="M621.4,754.0 C621.1,756.3 620.4,763.3 619.8,768.0 C619.1,772.7 618.4,777.5 617.5,782.0 C616.6,786.5 615.6,791.3 614.5,795.0 C613.4,798.7 612.1,802.0 611.0,804.0 C609.9,806.0 608.8,807.9 608.0,807.2 C607.2,806.5 606.6,803.7 606.0,800.0 C605.4,796.3 604.8,790.8 604.3,785.0 C603.8,779.2 603.2,771.7 602.7,765.0 C602.2,758.3 601.6,754.2 601.0,745.0 C600.4,735.8 599.6,720.8 599.0,710.0 C598.4,699.2 597.9,690.0 597.5,680.0 C597.1,670.0 596.7,657.4 596.4,650.0 C596.1,642.6 596.0,640.5 595.9,635.6 C595.8,630.7 595.8,625.9 595.5,620.8 C595.2,615.7 594.9,609.8 594.4,605.2 C593.9,600.6 593.3,596.7 592.8,593.4 C592.3,590.1 592.3,587.6 591.2,585.6 C590.2,583.6 588.1,581.6 586.6,581.3 C585.1,581.0 583.2,582.4 582.0,584.0 C580.8,585.6 580.4,588.1 579.5,591.0 C578.6,593.9 577.4,597.8 576.8,601.2 C576.1,604.8 575.8,610.2 575.6,612.0" fill="none" stroke="#9a3a4c" stroke-width="2.6" opacity="0.75"/></g><path d="M444,611 L457.3,614.2 L449.1,626.7Z" fill="#7e2a2a" stroke="none" stroke-width="1" /><path d="M569.2,612.5 L581.9,613.5 L574.8,626.3Z" fill="#7e2a2a" stroke="none" stroke-width="1" /><path d="M359.5,749 L359.5,846.5" fill="none" stroke="#1c1c1c" stroke-width="2.4" /><path d="M626.8,744 L626.8,846.5" fill="none" stroke="#1c1c1c" stroke-width="2.4" /><path d="M365,837.8 L622,837.8" fill="none" stroke="#1c1c1c" stroke-width="2.4" /><path d="M371.5,831 L365,837.8 L370.5,845.5" fill="none" stroke="#1c1c1c" stroke-width="2.4" /><path d="M615,831.5 L622.2,837.8 L615.4,845.5" fill="none" stroke="#1c1c1c" stroke-width="2.4" /><path d="M486.6,806.8 h4.7 v20.7 h12.45 v4.3 h-17.15 Z" fill="#111" stroke="none" stroke-width="1" /><text x="543.5" y="543.4" font-family="Liberation Sans" font-weight="bold" font-size="26" fill="#111">ØD</text><path d="M587,554 L529.5,554 L529.5,627" fill="none" stroke="#1a1a1a" stroke-width="2.3" /><path d="M523,618.5 L529.5,627.5 L536.5,618.5" fill="none" stroke="#1a1a1a" stroke-width="2.3" /></g></svg></body></html>
